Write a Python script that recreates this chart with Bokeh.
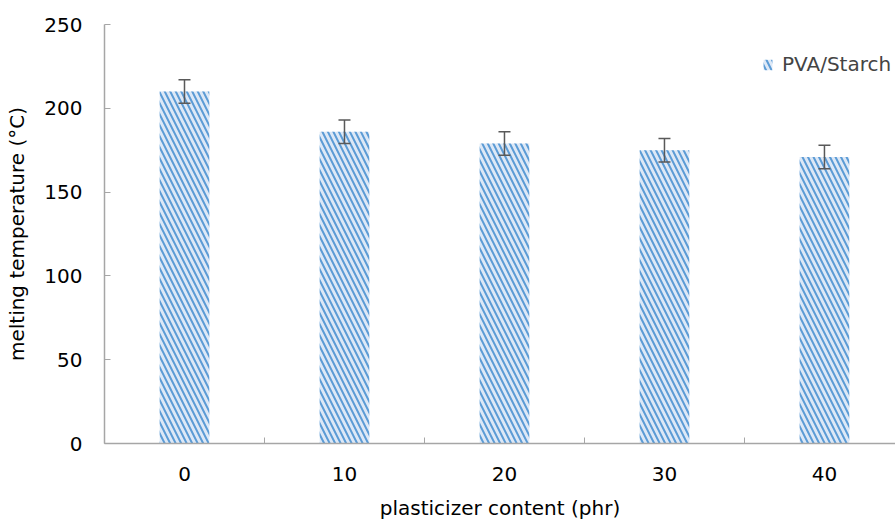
from bokeh.plotting import figure
from bokeh.models import (ColumnDataSource, Range1d, FixedTicker, Whisker, TeeHead,
                          Legend, LegendItem)
from bokeh.embed import file_html
from bokeh.resources import INLINE

categories = ["0", "10", "20", "30", "40"]
melting_temp = [210, 186, 179, 175, 171]
errors = [7, 7, 7, 7, 7]
series_name = "PVA/Starch"
y_ticks = [0, 50, 100, 150, 200, 250]

xs = list(range(len(categories)))
src = ColumnDataSource(dict(
    x=xs, top=melting_temp,
    upper=[v + e for v, e in zip(melting_temp, errors)],
    lower=[v - e for v, e in zip(melting_temp, errors)],
))

FONT = "DejaVu Sans"
GRAY = "#a6a6a6"
FS = "20px"

p = figure(width=895, height=526, output_backend="svg", toolbar_location=None,
           x_range=Range1d(-0.5, 4.444), y_range=Range1d(0, 250),
           min_border_left=104, min_border_right=0, min_border_top=24,
           min_border_bottom=83)
p.outline_line_color = None
p.xgrid.grid_line_color = None
p.ygrid.grid_line_color = None

r = p.vbar(x="x", top="top", width=0.31, source=src,
           fill_color="#dde8f6", line_color=None,
           hatch_pattern="left_diagonal_line", hatch_color="#5b9bd5",
           hatch_scale=11, hatch_weight=2.0)

w = Whisker(base="x", upper="upper", lower="lower", source=src,
            line_color="#595959", line_width=1.5, level="overlay",
            upper_head=TeeHead(size=12, line_color="#595959", line_width=1.5),
            lower_head=TeeHead(size=12, line_color="#595959", line_width=1.5))
p.add_layout(w)

# x axis
xa = p.xaxis[0]
xa.ticker = FixedTicker(ticks=xs, minor_ticks=[-0.5, 0.5, 1.5, 2.5, 3.5, 4.5])
xa.major_label_overrides = {i: c for i, c in enumerate(categories)}
xa.major_tick_in = 0
xa.major_tick_out = 0
xa.minor_tick_in = 6
xa.minor_tick_out = 0
xa.minor_tick_line_color = GRAY
xa.axis_line_color = GRAY
xa.axis_line_width = 1.5
xa.major_label_standoff = 23
xa.axis_label = "plasticizer content (phr)"
xa.axis_label_standoff = 12
xa.axis_label_text_font = FONT
xa.axis_label_text_font_style = "normal"
xa.axis_label_text_font_size = FS
xa.major_label_text_font = FONT
xa.major_label_text_font_size = FS
xa.major_label_text_color = "black"
xa.axis_label_text_color = "black"

# y axis
ya = p.yaxis[0]
ya.ticker = FixedTicker(ticks=y_ticks, minor_ticks=[])
ya.major_tick_in = 6
ya.major_tick_out = 0
ya.major_tick_line_color = GRAY
ya.axis_line_color = GRAY
ya.axis_line_width = 1.5
ya.major_label_standoff = 22
ya.axis_label = "melting temperature (°C)"
ya.axis_label_standoff = 12
ya.axis_label_text_font = FONT
ya.axis_label_text_font_style = "normal"
ya.axis_label_text_font_size = FS
ya.major_label_text_font = FONT
ya.major_label_text_font_size = FS
ya.major_label_text_color = "black"
ya.axis_label_text_color = "black"

legend = Legend(items=[LegendItem(label=series_name, renderers=[r])],
                location=(658, 367), padding=0, margin=0, spacing=0,
                glyph_width=11, glyph_height=13, label_height=20,
                label_standoff=9, border_line_color=None,
                background_fill_alpha=0,
                label_text_font=FONT, label_text_font_size=FS)
p.add_layout(legend)

open("out.html", "w").write(file_html(p, INLINE))
